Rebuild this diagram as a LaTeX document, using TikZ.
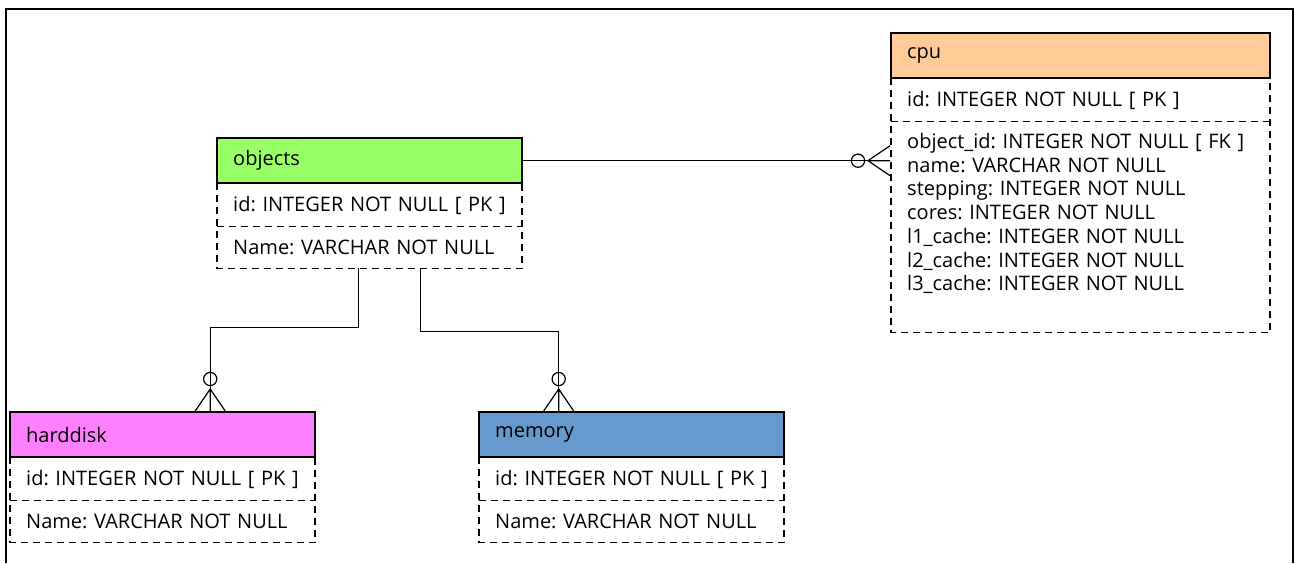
\documentclass[tikz,border=0pt]{standalone}
\usepackage{fontspec}
\setmainfont{Open Sans}
\frenchspacing
\usetikzlibrary{matrix,positioning,calc}
\definecolor{objgreen}{RGB}{153,255,102}
\definecolor{cpuorange}{RGB}{255,204,153}
\definecolor{hddpink}{RGB}{255,128,255}
\definecolor{memblue}{RGB}{102,153,204}
% zero-or-many end: #1 = point on the table, #2 = direction away from it
\newcommand{\zeromany}[2]{%
  \begin{scope}[shift={(#1)},rotate=#2]
    \draw (0pt,7.5pt) -- (11pt,0pt) -- (0pt,-7.5pt) (0pt,0pt) -- (11pt,0pt);
    \draw (16pt,0pt) circle (3.3pt);
  \end{scope}}

\begin{document}
\begin{tikzpicture}[x=0.5pt,y=-0.5pt,line width=0.6pt,
    font=\fontsize{10}{11.85}\selectfont,
    field/.style={inner xsep=8pt,inner ysep=0pt,minimum height=21pt,align=left,anchor=center},
    head/.style={draw,line width=1.2pt,minimum height=22.5pt},
    fieldline/.style={dash pattern=on 3.5pt off 2.5pt,line width=0.8pt},
    erd/.style={matrix of nodes,anchor=north west,inner sep=0pt,outer sep=0pt,
      row sep=0pt,nodes={field,text width=#1}}]
 \useasboundingbox (0,0) rectangle (1295,563);
 \draw[line width=1pt] (6,563) |- (1293,9) -- (1293,563);

 \matrix[erd=136.5pt,row 1/.style={nodes={head,fill=objgreen}}] (objects) at (216,137)
  {objects\\ id: INTEGER NOT NULL [ PK ]\\ Name: VARCHAR NOT NULL\\};
 \matrix[erd=173.5pt,row 1/.style={nodes={head,fill=cpuorange}},
   row 3/.style={nodes={minimum height=105.5pt}}] (cpu) at (890,32)
  {cpu\\ id: INTEGER NOT NULL [ PK ]\\
   {object\_id: INTEGER NOT NULL [ FK ]\\ name: VARCHAR NOT NULL\\
    stepping: INTEGER NOT NULL\\ cores: INTEGER NOT NULL\\
    l1\_cache: INTEGER NOT NULL\\ l2\_cache: INTEGER NOT NULL\\
    l3\_cache: INTEGER NOT NULL\\[3pt] \mbox{}}\\};
 \matrix[erd=136.5pt,row 1/.style={nodes={head,fill=hddpink}}] (harddisk) at (9,411)
  {harddisk\\ id: INTEGER NOT NULL [ PK ]\\ Name: VARCHAR NOT NULL\\};
 \matrix[erd=136.5pt,row 1/.style={nodes={head,fill=memblue}}] (memory) at (478,411)
  {memory\\ id: INTEGER NOT NULL [ PK ]\\ Name: VARCHAR NOT NULL\\};
 % dashed field boxes
 \foreach \t in {objects,cpu,harddisk,memory} {
   \draw[fieldline] (\t-1-1.south west) rectangle (\t-3-1.south east);
   \draw[fieldline] (\t-2-1.south west) -- (\t-2-1.south east);
 }

 \coordinate (cpuA) at (objects-1-1.east -| cpu.west);
 \draw (objects-1-1.east) -- (cpuA);
 \zeromany{cpuA}{180}
 \coordinate (objA) at ([xshift=-5.75pt]objects.south);
 \coordinate (hddA) at ([xshift=23.75pt]harddisk.north);
 \draw (objA) -- ++(0pt,-29.5pt) -| (hddA);
 \zeromany{hddA}{90}
 \coordinate (objB) at ([xshift=25.25pt]objects.south);
 \coordinate (memA) at ([xshift=-36.5pt]memory.north);
 \draw (objB) -- ++(0pt,-31.5pt) -| (memA);
 \zeromany{memA}{90}
\end{tikzpicture}
\end{document}
